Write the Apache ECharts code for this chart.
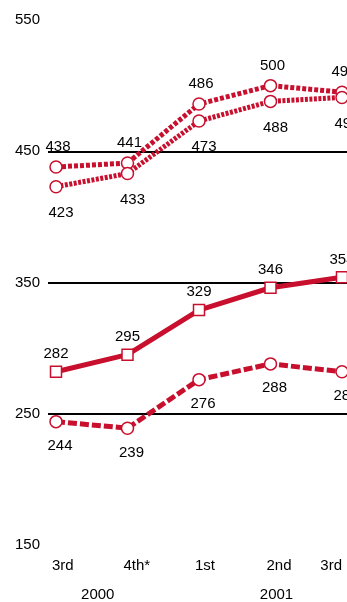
<!DOCTYPE html>
<html>
<head>
<meta charset="utf-8">
<script src="https://cdn.jsdelivr.net/npm/echarts@6/dist/echarts.min.js"></script>
<style>
  html, body { margin: 0; padding: 0; background: #fff; }
  #chart { width: 347px; height: 602px; }
</style>
</head>
<body>
<div id="chart"></div>
<script>
// Quarter labels and the year each quarter belongs to
const quarters = ['3rd', '4th*', '1st', '2nd', '3rd'];
const quarterYears = ['2000', '2000', '2001', '2001', '2001'];

// Series values by quarter
const upperA = [438, 441, 486, 500, 495];
const upperB = [423, 433, 473, 488, 491];
const lowerA = [282, 295, 329, 346, 354];
const lowerB = [244, 239, 276, 288, 282];

// Value-axis ticks
const yTicks = [150, 250, 350, 450, 550];

const RED = '#c8102e';
const FONT = '"Liberation Sans", Arial, sans-serif';
const FS = 15;

// Year label positions: centre of each year's run of quarters
const yearNames = [...new Set(quarterYears)];
const yearCentres = yearNames.map(y => {
  const idx = quarterYears.map((q, i) => q === y ? i : -1).filter(i => i >= 0);
  return idx.reduce((a, b) => a + b, 0) / idx.length;
});

const points = arr => arr.map((v, i) => [i, v]);

function lineSeries(values, symbol, dash, labelPos, dist, dx) {
  return {
    type: 'line',
    data: points(values),
    symbol: symbol,
    symbolSize: symbol === 'rect' ? 11 : 12,
    showAllSymbol: true,
    itemStyle: { color: '#fff', borderColor: RED, borderWidth: 1.5 },
    lineStyle: { color: RED, width: 5, type: dash },
    label: {
      show: true,
      position: labelPos,
      distance: dist,
      offset: [dx, 0],
      color: '#000',
      fontFamily: FONT,
      fontSize: FS,
      formatter: p => p.value[1]
    },
    emphasis: { disabled: true },
    z: 3
  };
}

const chart = echarts.init(document.getElementById('chart'), null, { renderer: 'canvas' });

chart.setOption({
  animation: false,
  backgroundColor: '#fff',
  grid: { left: 48, right: 0, top: 20, bottom: 55, containLabel: false },
  xAxis: [
    {
      type: 'value',
      min: -0.112,
      max: 4.07,
      axisLine: { show: false },
      axisTick: { show: false },
      splitLine: { show: false },
      axisLabel: {
        customValues: quarters.map((q, i) => i),
        formatter: v => quarters[Math.round(v)],
        align: 'left',
        padding: [0, 0, 0, -4],
        alignMaxLabel: 'right',
        margin: 13,
        color: '#000',
        fontFamily: FONT,
        fontSize: FS
      }
    },
    {
      type: 'value',
      position: 'bottom',
      min: -0.112,
      max: 4.07,
      axisLine: { show: false },
      axisTick: { show: false },
      splitLine: { show: false },
      axisLabel: {
        customValues: yearCentres,
        formatter: v => yearNames[yearCentres.indexOf(v)],
        padding: [0, 0, 0, 12],
        margin: 42,
        color: '#000',
        fontFamily: FONT,
        fontSize: FS
      }
    }
  ],
  yAxis: {
    type: 'value',
    min: yTicks[0],
    max: yTicks[yTicks.length - 1],
    interval: 100,
    axisLine: { show: false },
    axisTick: { show: false },
    axisLabel: {
      margin: 8,
      padding: [8, 0, 0, 0],
      color: '#000',
      fontFamily: FONT,
      fontSize: FS
    },
    splitLine: {
      show: true,
      lineStyle: {
        color: ['transparent', '#000', '#000', '#000', 'transparent'],
        width: 2
      }
    }
  },
  series: [
    lineSeries(upperA, 'circle', [4, 2], 'top', 6, 2),
    lineSeries(upperB, 'circle', [3, 1.5], 'bottom', 12, 5),
    lineSeries(lowerA, 'rect', 'solid', 'top', 4, 0),
    lineSeries(lowerB, 'circle', [9, 3], 'bottom', 10, 4)
  ]
});
</script>
</body>
</html>
